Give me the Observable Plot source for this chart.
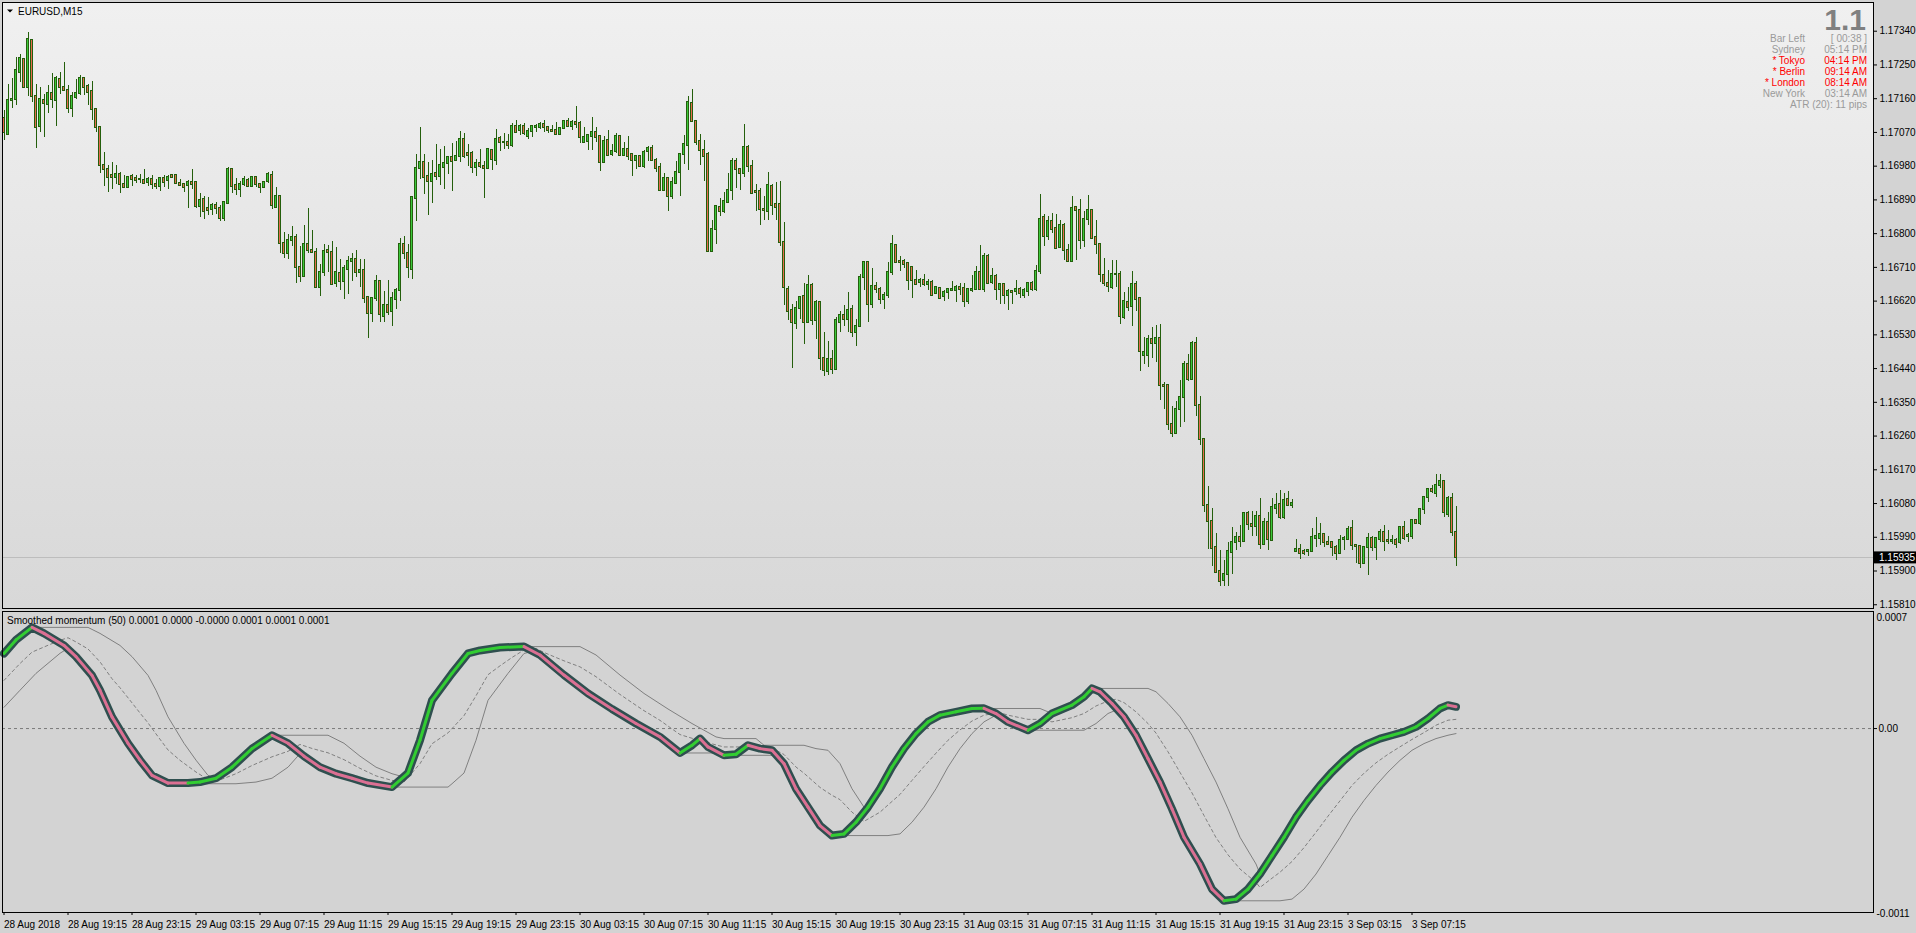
<!DOCTYPE html>
<html><head><meta charset="utf-8">
<script src="https://cdn.jsdelivr.net/npm/d3@7"></script>
<script src="https://cdn.jsdelivr.net/npm/@observablehq/plot@0.6"></script>
<style>
html,body{margin:0;padding:0;background:#d3d3d3;}
#root{position:relative;width:1916px;height:933px;overflow:hidden;font-family:"Liberation Sans",Arial,sans-serif;}
#root svg{position:absolute;left:0;}
</style></head><body><div id="root"></div>
<script>
// ---------- DATA ----------
const POINT = 0.00001; // prices stored in broker points
const open = [
117106,117064,117154,117159,117231,117264,117191,117315,117167,117087,
117154,117145,117175,117154,117210,117191,117181,117135,117164,117175,
117213,117192,117178,117130,117082,116981,116971,116955,116951,116958,
116930,116924,116952,116947,116944,116942,116937,116944,116930,116927,
116948,116941,116955,116955,116935,116931,116928,116937,116936,116873,
116891,116868,116865,116875,116867,116841,116881,116971,116928,116919,
116930,116942,116927,116951,116931,116922,116940,116954,116871,116898,
116773,116746,116783,116791,116709,116686,116770,116754,116751,116657,
116695,116754,116751,116666,116693,116673,116705,116726,116730,116695,
116703,116630,116586,116626,116672,116580,116607,116591,116625,116647,
116771,116747,116705,116895,116975,116989,116952,116938,116960,116953,
116977,116986,117002,116994,117007,117050,117013,117013,116977,116986,
116978,116975,117021,116996,117053,117044,117042,117036,117086,117074,
117086,117058,117073,117082,117084,117090,117082,117075,117075,117064,
117080,117099,117087,117097,117094,117044,117045,117058,117070,117058,
116990,117048,117010,117018,117059,117009,117025,117011,116994,117007,
116980,117018,117026,116994,116976,116915,116946,116900,116935,116964,
117010,117034,117146,117099,117045,117023,117011,116753,116810,116870,
116860,116884,116914,116993,116970,116960,117029,116978,116913,116913,
116865,116860,116926,116877,116877,116776,116650,116595,116561,116601,
116633,116564,116662,116569,116617,116466,116431,116464,116437,116564,
116581,116572,116597,116536,116553,116682,116722,116610,116658,116650,
116624,116634,116696,116768,116726,116725,116720,116709,116674,116670,
116674,116665,116669,116640,116653,116631,116642,116648,116647,116656,
116653,116620,116648,116650,116696,116650,116739,116670,116685,116650,
116664,116636,116645,116646,116650,116636,116645,116668,116650,116698,
116842,116793,116832,116815,116764,116823,116754,116726,116871,116863,
116783,116839,116863,116791,116772,116688,116668,116655,116690,116692,
116575,116615,116606,116663,116626,116475,116475,116517,116506,116519,
116396,116395,116290,116268,116330,116362,116452,116412,116506,116341,
116251,116075,116032,115962,115899,115874,115890,115949,115976,115990,
115978,116054,116024,116020,116046,115970,116029,115981,116066,116077,
116042,116091,116076,115951,115957,115952,115951,115951,115988,115988,
115998,115977,115977,115963,115946,115983,115985,116013,115969,115965,
115919,115962,115988,115964,115983,116002,115982,115978,115981,115975,
116017,115991,115991,116034,116026,116063,116095,116117,116108,116127,
116139,116052,116093,116002];
const high = [
117128,117197,117213,117271,117279,117268,117337,117318,117197,117191,
117170,117195,117227,117220,117231,117257,117195,117177,117210,117222,
117215,117197,117206,117130,117082,117017,116982,116991,116982,116964,
116955,116951,116959,116955,116959,116971,116949,116955,116944,116948,
116955,116955,116958,116957,116944,116934,116942,116971,116936,116906,
116899,116896,116881,116884,116875,116887,116976,116973,116946,116940,
116953,116946,116952,116952,116935,116939,116964,116966,116924,116901,
116802,116799,116819,116799,116766,116822,116866,116808,116761,116719,
116771,116768,116778,116762,116731,116715,116739,116747,116754,116731,
116731,116630,116626,116688,116672,116646,116675,116643,116654,116787,
116792,116771,116896,117011,117083,117011,116990,116995,117038,117024,
117032,117006,117041,117047,117072,117067,117039,117019,116999,117024,
116993,117027,117023,117078,117058,117066,117064,117093,117102,117090,
117094,117080,117089,117090,117096,117103,117084,117089,117097,117082,
117102,117108,117101,117139,117098,117084,117064,117110,117084,117062,
117058,117074,117037,117066,117062,117044,117058,117013,117009,117009,
117022,117032,117035,117000,116987,116960,116946,116951,116993,117010,
117062,117165,117185,117102,117064,117049,117016,116835,116875,116895,
116911,116960,117000,117000,116973,117091,117035,116995,116930,116920,
116899,116963,116930,116937,116939,116830,116659,116611,116619,116633,
116666,116689,116666,116622,116619,116536,116511,116489,116575,116591,
116609,116643,116609,116571,116691,116724,116724,116707,116669,116655,
116644,116722,116795,116770,116739,116730,116722,116711,116702,116680,
116691,116677,116675,116660,116656,116649,116653,116671,116662,116666,
116666,116653,116689,116713,116769,116746,116744,116706,116690,116666,
116664,116651,116648,116676,116655,116653,116670,116672,116716,116904,
116850,116845,116855,116850,116835,116826,116770,116899,116872,116892,
116859,116901,116863,116835,116772,116733,116701,116728,116728,116699,
116644,116656,116699,116672,116626,116522,116528,116549,116555,116557,
116403,116397,116339,116352,116408,116459,116477,116513,116522,116365,
116252,116125,116067,115999,115955,115929,115976,116015,116004,116022,
116056,116059,116059,116058,116094,116040,116056,116094,116106,116115,
116106,116111,116091,115985,115970,115958,115956,116013,116043,116026,
116000,115991,115979,115969,115995,115991,116020,116035,115970,115969,
115965,116000,115991,115988,116011,116022,116007,115995,115986,116020,
116033,116000,116038,116036,116068,116100,116120,116127,116158,116158,
116142,116098,116106,116073];
const low = [
117048,117062,117133,117143,117204,117186,117167,117151,117026,117071,
117057,117121,117135,117087,117170,117183,117121,117111,117159,117168,
117168,117142,117102,117071,116961,116927,116909,116919,116930,116906,
116921,116924,116927,116933,116933,116930,116925,116919,116919,116913,
116924,116918,116949,116933,116927,116910,116868,116919,116868,116844,
116839,116848,116848,116850,116832,116833,116881,116906,116902,116897,
116927,116923,116922,116922,116906,116920,116935,116865,116866,116748,
116735,116732,116766,116668,116670,116684,116746,116750,116655,116633,
116686,116697,116662,116655,116648,116625,116638,116673,116683,116657,
116614,116519,116564,116619,116564,116564,116582,116553,116597,116620,
116732,116681,116678,116833,116945,116905,116849,116881,116942,116929,
116919,116959,116913,116993,116991,117000,116980,116961,116952,116975,
116895,116972,116969,116982,117018,117025,117025,117031,117069,117062,
117062,117050,117057,117071,117078,117071,117068,117069,117062,117062,
117078,117082,117074,117080,117041,117042,117023,117023,117044,116966,
116987,117005,117007,117015,117009,117009,116995,116953,116971,116976,
116975,116993,116993,116962,116914,116913,116858,116892,116935,116900,
116984,116969,117096,117034,116982,116939,116753,116753,116771,116847,
116855,116882,116889,116920,116914,116951,116964,116906,116860,116822,
116834,116835,116849,116834,116767,116609,116569,116441,116545,116570,
116505,116564,116555,116518,116435,116419,116422,116425,116435,116536,
116551,116537,116524,116500,116551,116649,116562,116601,116640,116610,
116597,116626,116689,116720,116698,116707,116649,116628,116662,116656,
116660,116649,116633,116637,116625,116620,116624,116647,116615,116635,
116604,116611,116644,116649,116650,116644,116665,116664,116621,116610,
116612,116595,116612,116635,116628,116628,116632,116645,116645,116692,
116766,116781,116801,116758,116761,116728,116723,116726,116729,116758,
116764,116823,116786,116744,116670,116660,116642,116650,116657,116558,
116572,116592,116553,116593,116433,116451,116443,116468,116457,116355,
116332,116275,116255,116266,116283,116297,116406,116411,116313,116236,
116057,115957,115913,115895,115859,115860,115860,115890,115955,115964,
115976,116008,115993,115991,115957,115967,115954,115981,116050,116038,
116038,116071,116066,115949,115931,115942,115940,115949,115964,115967,
115963,115970,115940,115927,115944,115954,115982,115954,115920,115908,
115917,115889,115953,115929,115976,115953,115972,115971,115960,115972,
115981,115975,115985,116024,116022,116051,116082,116108,116095,116120,
116042,116042,115991,115911];
const close = [
117069,117154,117159,117234,117266,117191,117317,117167,117084,117157,
117148,117175,117159,117213,117191,117183,117135,117166,117175,117213,
117189,117177,117130,117082,116981,116972,116951,116951,116959,116932,
116924,116949,116945,116943,116944,116934,116944,116930,116927,116946,
116937,116950,116951,116935,116929,116924,116936,116932,116873,116888,
116860,116861,116875,116868,116841,116883,116971,116927,116919,116931,
116944,116927,116951,116930,116922,116937,116957,116874,116898,116773,
116746,116783,116791,116709,116686,116770,116754,116750,116657,116695,
116753,116750,116664,116695,116671,116706,116727,116730,116695,116703,
116628,116586,116626,116672,116583,116608,116590,116626,116648,116771,
116746,116709,116896,116975,116989,116951,116938,116958,116953,116983,
116986,117002,116993,117007,117050,117007,117009,116977,116986,116980,
116975,117024,116997,117050,117042,117042,117036,117086,117071,117086,
117068,117073,117086,117086,117091,117082,117074,117073,117065,117080,
117099,117086,117097,117092,117056,117057,117061,117069,117057,116991,
117046,117009,117018,117059,117009,117025,117007,116994,117006,116978,
117016,117026,116994,116975,116914,116946,116900,116936,116962,117010,
117037,117149,117098,117042,117023,117007,116753,116810,116872,116859,
116885,116914,116993,116970,116960,117029,116978,116908,116911,116864,
116862,116928,116874,116871,116776,116656,116593,116564,116600,116629,
116564,116662,116569,116617,116468,116435,116464,116437,116569,116582,
116572,116595,116536,116553,116682,116722,116610,116658,116650,116624,
116634,116696,116770,116724,116722,116719,116674,116674,116665,116674,
116664,116670,116635,116655,116628,116642,116650,116650,116656,116650,
116620,116650,116650,116696,116650,116739,116668,116685,116650,116664,
116636,116645,116644,116650,116639,116647,116668,116650,116698,116839,
116793,116832,116812,116761,116823,116754,116725,116868,116863,116783,
116839,116863,116788,116770,116690,116668,116658,116690,116692,116579,
116618,116602,116663,116623,116486,116484,116517,116506,116519,116394,
116391,116290,116268,116330,116362,116452,116410,116508,116341,116252,
116075,116032,115959,115897,115873,115890,115953,115976,115990,115978,
116054,116024,116020,116046,115970,116029,115984,116070,116074,116042,
116088,116076,116081,115958,115946,115946,115954,115990,115991,115998,
115975,115972,115962,115946,115981,115988,116011,115967,115966,115919,
115963,115986,115964,115986,116002,115979,115978,115982,115972,116017,
115988,115994,116034,116026,116065,116097,116117,116111,116128,116139,
116056,116093,116002,115935];

const priceTicks = [1.1581,1.1590,1.1599,1.1608,1.1617,1.1626,1.1635,1.1644,1.1653,1.1662,1.1671,1.1680,1.1689,1.1698,1.1707,1.1716,1.1725,1.1734];
const timeTickBars = [0,16,32,48,64,80,96,112,128,144,160,176,192,208,224,240,256,272,288,304,320,336,352];
const timeLabels = ["28 Aug 2018","28 Aug 19:15","28 Aug 23:15","29 Aug 03:15","29 Aug 07:15","29 Aug 11:15","29 Aug 15:15","29 Aug 19:15","29 Aug 23:15","30 Aug 03:15","30 Aug 07:15","30 Aug 11:15","30 Aug 15:15","30 Aug 19:15","30 Aug 23:15","31 Aug 03:15","31 Aug 07:15","31 Aug 11:15","31 Aug 15:15","31 Aug 19:15","31 Aug 23:15","3 Sep 03:15","3 Sep 07:15"];

// Smoothed momentum indicator (values in millionths)
const MICRO = 1e-6;
const momBar = [0,3,7,10,15,18,22,24,27,31,34,37,41,46,49,53,57,62,67,71,75,79,83,87,91,97,101,104,107,112,116,119,124,130,134,140,146,152,158,164,169,172,174,176,180,183,186,189,192,195,198,201,204,207,210,213,216,219,222,225,228,231,234,238,242,245,248,251,256,259,262,267,270,272,274,277,280,283,286,289,292,295,299,302,305,308,311,314,317,320,323,326,329,332,335,338,341,344,347,350,353,356,359,361,363];
const momVal = [449,530,605,569,497,430,318,229,70,-88,-189,-280,-326,-326,-320,-297,-231,-120,-40,-88,-165,-231,-270,-297,-326,-350,-266,-70,169,330,449,467,485,490,440,320,210,117,30,-50,-146,-100,-60,-110,-160,-154,-100,-120,-130,-210,-360,-470,-580,-640,-630,-560,-470,-360,-230,-120,-30,40,80,100,120,121,90,40,-10,30,90,140,190,240,220,150,70,-40,-180,-320,-480,-650,-810,-960,-1030,-1020,-960,-870,-760,-650,-530,-430,-340,-260,-190,-130,-90,-60,-40,-20,10,60,120,140,130];
const upBar = [0,3,7,21,22,24,29,32,36,38,41,45,48,51,53,57,62,67,81,85,89,93,97,100,101,104,107,112,116,119,124,127,141,144,148,154,160,166,172,178,180,188,190,200,203,206,209,212,215,216,219,222,225,228,231,234,238,242,245,259,261,262,267,270,272,286,288,291,294,297,300,303,306,309,313,314,317,320,323,326,329,332,335,338,341,344,347,350,353,356,359,361,363];
const upVal = [449,530,605,605,593,569,497,430,318,229,70,-88,-189,-280,-300,-231,-120,-40,-40,-88,-165,-231,-270,-290,-266,-70,169,330,449,467,485,490,490,490,440,320,210,117,30,-50,-60,-60,-100,-100,-120,-130,-210,-360,-470,-470,-360,-230,-120,-30,40,80,100,120,120,120,100,90,140,190,240,240,220,150,70,-40,-180,-320,-480,-650,-810,-870,-760,-650,-530,-430,-340,-260,-190,-130,-90,-60,-40,-20,10,60,120,140,140];
const loBar = [0,4,8,11,14,16,18,22,24,27,31,34,37,41,44,58,63,67,71,74,75,79,83,87,91,97,111,112,115,118,121,126,130,133,135,140,146,152,158,164,169,178,180,193,195,198,201,204,207,221,224,227,230,233,236,239,242,245,248,249,251,256,270,273,276,278,280,283,286,289,292,295,299,302,305,319,322,325,328,331,334,337,340,343,346,349,352,355,358,361,363];
const loVal = [127,229,330,390,450,480,430,318,229,70,-88,-189,-280,-326,-330,-330,-320,-297,-231,-150,-165,-231,-270,-297,-326,-350,-350,-330,-266,-70,169,330,449,467,420,320,210,117,30,-50,-146,-146,-160,-160,-210,-360,-470,-580,-640,-640,-630,-560,-470,-360,-230,-120,-30,40,80,70,40,-10,-10,30,90,110,70,-40,-180,-320,-480,-650,-810,-960,-1030,-1030,-1020,-960,-870,-760,-650,-530,-430,-340,-260,-190,-130,-90,-60,-40,-30];
const midBar = [0,4,7,11,14,16,18,21,24,27,29,32,34,36,38,41,44,48,51,53,55,58,62,67,71,74,77,81,85,89,93,97,100,104,107,111,115,118,121,124,127,130,133,135,140,144,148,152,154,158,160,164,166,169,172,178,180,188,190,193,195,198,200,204,207,209,212,215,219,221,224,227,230,233,236,239,242,245,249,251,256,259,262,267,270,273,276,278,280,283,286,288,291,294,297,300,303,306,309,313,314,317,319,322,325,328,331,334,337,340,343,346,349,352,355,358,361,363];
const midVal = [288,389,457,498,528,543,518,476,399,298,244,154,93,34,-32,-128,-190,-260,-305,-315,-298,-270,-221,-169,-136,-95,-119,-145,-186,-238,-283,-310,-320,-210,-91,-26,77,196,322,375,425,470,479,455,405,369,310,239,204,139,107,49,15,-36,-58,-98,-110,-110,-130,-130,-155,-230,-267,-352,-399,-425,-500,-555,-500,-457,-394,-310,-227,-147,-70,-8,45,80,95,80,55,55,40,65,90,135,165,175,155,100,30,-27,-139,-262,-385,-520,-652,-755,-840,-920,-950,-895,-859,-795,-712,-620,-524,-432,-340,-267,-205,-154,-109,-65,-24,20,50,55];
const indTickVals = [0.0007, 0, -0.0011];
const indTickText = ["0.0007", "0.00", "-0.0011"];

const symbolText = "EURUSD,M15";
const indicatorText = "Smoothed momentum (50) 0.0001 0.0000 -0.0000 0.0001 0.0001 0.0001";
const bigText = "1.1";
const sessionNames = ["Bar Left","Sydney","* Tokyo","* Berlin","* London","New York"];
const sessionTimes = ["[ 00:38 ]","05:14 PM","04:14 PM","09:14 AM","08:14 AM","03:14 AM"];
const sessionOpen = [false,false,true,true,true,false];
const atrText = "ATR (20): 11 pips";

// ---------- BUILD ----------
const root = document.getElementById("root");
const W = 1916;
const FONT = "'Liberation Sans', Arial, sans-serif";
const xDomain = [-0.375, 467.375];
const OUTLINE = "#245f0c", BULL = "#3cc83c", BEAR = "#e66b4f";

const bars = open.map((o, i) => ({i, o: o * POINT, h: high[i] * POINT, l: low[i] * POINT, c: close[i] * POINT}));
const lastClose = bars[bars.length - 1].c;

// main panel gradient background
const bg = document.createElement("div");
Object.assign(bg.style, {position: "absolute", left: "2px", top: "2px", width: "1871px", height: "606px",
  background: "linear-gradient(#f0f0f0, #d8d8d8)"});
root.appendChild(bg);

const main = Plot.plot({
  width: W, height: 610,
  marginLeft: 2, marginRight: 43, marginTop: 2, marginBottom: 2,
  x: {domain: xDomain, axis: null},
  y: {domain: [1.158, 1.174166], axis: null},
  color: {type: "identity"},
  style: {background: "transparent", fontFamily: FONT, fontSize: "10px", color: "#000", overflow: "visible"},
  marks: [
    Plot.ruleY([lastClose], {stroke: "#bdbdbd", shapeRendering: "crispEdges"}),
    Plot.ruleX(bars, {x: "i", y1: "l", y2: "h", stroke: OUTLINE, strokeWidth: 1, shapeRendering: "crispEdges"}),
    Plot.rect(bars, {x1: d => d.i - 0.25, x2: d => d.i + 0.25, y1: "o", y2: "c", insetTop: -0.5, insetBottom: -0.5,
      fill: d => d.c >= d.o ? BULL : BEAR, stroke: OUTLINE, strokeWidth: 1, shapeRendering: "crispEdges"}),
    Plot.axisY(priceTicks, {anchor: "right", tickSize: 3, tickPadding: 3, tickFormat: d => d.toFixed(5), fontSize: 10}),
    Plot.frame({stroke: "#000"})
  ]
});
main.style.top = "0px";
root.appendChild(main);

// current price box
{
  const yy = main.scale("y").apply(lastClose);
  const s = d3.select(main);
  s.append("rect").attr("x", 1874).attr("y", yy - 6).attr("width", 42).attr("height", 12).attr("fill", "#000");
  s.append("text").attr("x", 1879).attr("y", yy).attr("dy", "0.35em").attr("fill", "#fff")
    .attr("text-anchor", "start").attr("font-size", 10).attr("font-family", FONT).text(lastClose.toFixed(5));
}

// indicator
const mom = momBar.map((k, j) => ({k, v: momVal[j] * MICRO}));
const up = upBar.map((k, j) => ({k, v: upVal[j] * MICRO}));
const lo = loBar.map((k, j) => ({k, v: loVal[j] * MICRO}));
const mid = midBar.map((k, j) => ({k, v: midVal[j] * MICRO}));
const segs = mom.slice(1).map((d, j) => ({x1: mom[j].k, y1: mom[j].v, x2: d.k, y2: d.v, rising: d.v > mom[j].v}));
const timeLabel = new Map(timeTickBars.map((b, i) => [b, timeLabels[i]]));
const indTicks = indTickVals.map((v, i) => ({v, t: indTickText[i]}));

const ind = Plot.plot({
  width: W, height: 323,
  marginLeft: 2, marginRight: 43, marginTop: 1, marginBottom: 21,
  x: {domain: xDomain, axis: null},
  y: {domain: [-0.0011, 0.0007], axis: null},
  color: {type: "identity"},
  style: {background: "transparent", fontFamily: FONT, fontSize: "10px", color: "#000", overflow: "visible"},
  marks: [
    Plot.ruleY([0], {stroke: "#7a7a7a", strokeDasharray: "3,3"}),
    Plot.line(up, {x: "k", y: "v", stroke: "#808080", strokeWidth: 1}),
    Plot.line(lo, {x: "k", y: "v", stroke: "#808080", strokeWidth: 1}),
    Plot.line(mid, {x: "k", y: "v", stroke: "#808080", strokeWidth: 1, strokeDasharray: "3,3"}),
    Plot.line(mom, {x: "k", y: "v", stroke: "#2f4f4f", strokeWidth: 8, strokeLinejoin: "round", strokeLinecap: "round"}),
    Plot.link(segs, {x1: "x1", y1: "y1", x2: "x2", y2: "y2", stroke: d => d.rising ? "#32cd32" : "#db7093", strokeWidth: 3, strokeLinecap: "round"}),
    Plot.axisX(timeTickBars, {anchor: "bottom", tickSize: 3, tickPadding: 5, textAnchor: "start", dx: 0, tickFormat: d => timeLabel.get(d), fontSize: 10}),
    Plot.axisY([indTicks[1].v], {anchor: "right", tickSize: 3, tickPadding: 2, tickFormat: () => indTicks[1].t, fontSize: 10}),
    Plot.text([indTicks[0]], {y: "v", text: "t", frameAnchor: "right", textAnchor: "start", dx: 3, dy: 6, fontSize: 10}),
    Plot.text([indTicks[2]], {y: "v", text: "t", frameAnchor: "right", textAnchor: "start", dx: 3, dy: 1, fontSize: 10}),
    Plot.frame({stroke: "#000"})
  ]
});
ind.style.top = "610px";
root.appendChild(ind);

// overlay texts
const ov = d3.select(root).append("svg").attr("width", W).attr("height", 933)
  .style("top", "0px").style("pointer-events", "none").attr("font-family", FONT);
ov.append("path").attr("d", "M7,9.5 L13,9.5 L10,12.5 Z").attr("fill", "#000");
ov.append("text").attr("x", 18).attr("y", 14.5).attr("font-size", 10).attr("fill", "#000").text(symbolText);
ov.append("text").attr("x", 7).attr("y", 623.5).attr("font-size", 10).attr("fill", "#000").text(indicatorText);
ov.append("text").attr("x", 1866).attr("y", 30).attr("text-anchor", "end").attr("font-size", 30)
  .attr("font-weight", "bold").attr("fill", "#808080").text(bigText);
const rowY = [42, 53, 64, 75, 86, 96.5];
sessionNames.forEach((n, i) => {
  const col = sessionOpen[i] ? "#ff0000" : "#9a9a9a";
  ov.append("text").attr("x", 1805).attr("y", rowY[i]).attr("text-anchor", "end").attr("font-size", 10).attr("fill", col).text(n);
  ov.append("text").attr("x", 1867).attr("y", rowY[i]).attr("text-anchor", "end").attr("font-size", 10).attr("fill", col).text(sessionTimes[i]);
});
ov.append("text").attr("x", 1867).attr("y", 107.5).attr("text-anchor", "end").attr("font-size", 10).attr("fill", "#9a9a9a").text(atrText);
</script></body></html>
